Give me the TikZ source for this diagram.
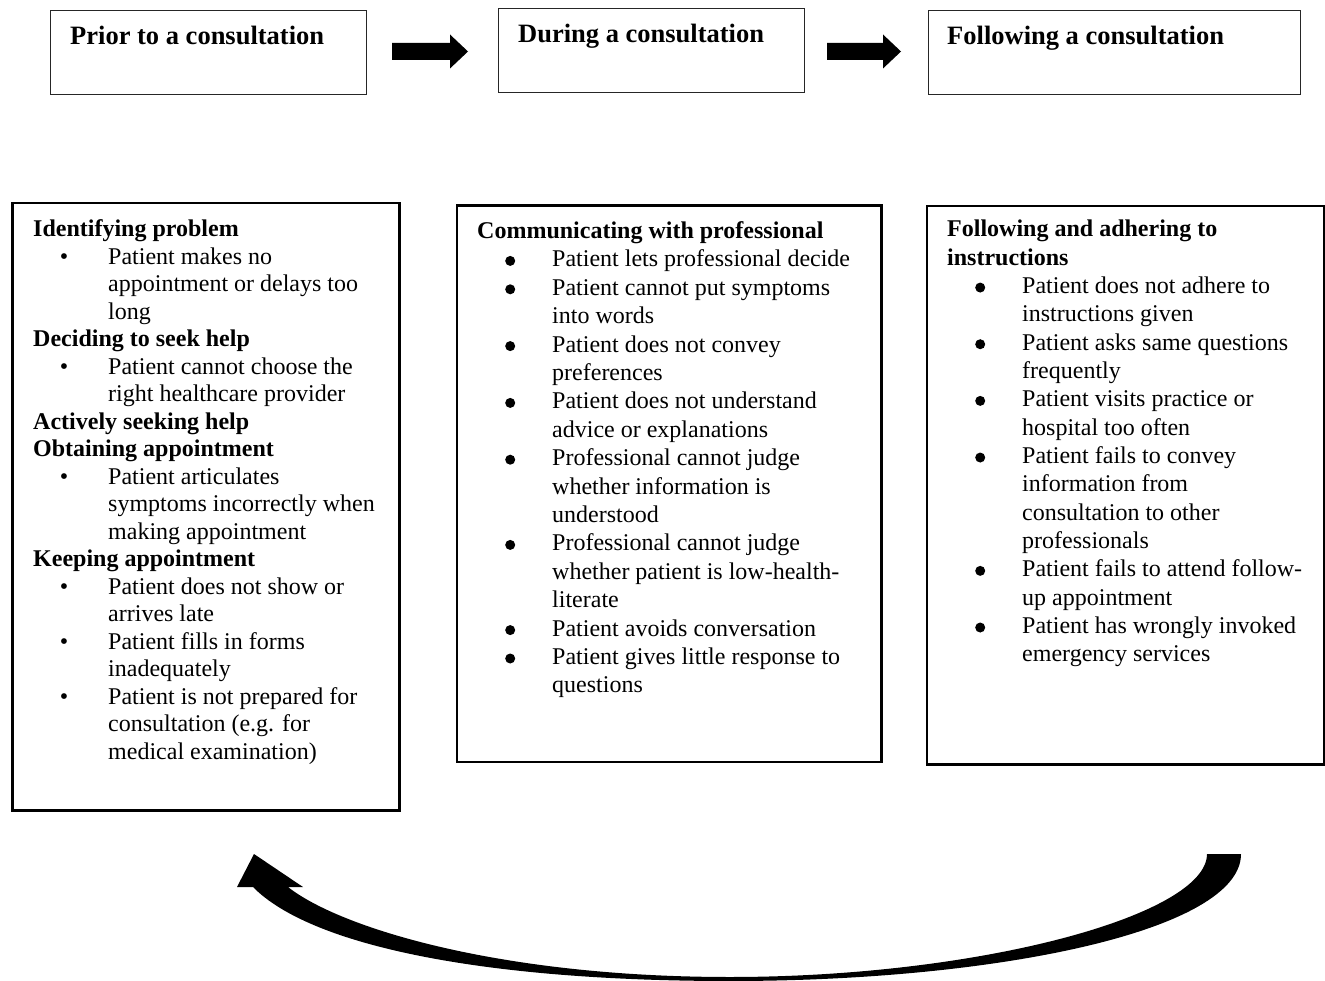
\documentclass[tikz,border=0pt]{standalone}
\usepackage{fontspec}
\setmainfont{Liberation Serif}
\usetikzlibrary{calc}
\newcommand\smb{•}
\newcommand\bgb{\tikz[baseline=0pt]\fill (0pt,6pt) circle[radius=5pt];}
\newcommand\bi[3]{\hspace*{#1}\makebox[0pt][c]{#2}\hspace*{\dimexpr75pt-#1\relax}#3}
\newcommand\ct[1]{\hspace*{75pt}#1}
\newcommand\fst{\rule{0pt}{20pt}}
\begin{document}
\begin{tikzpicture}[x=1pt,y=-1pt,
  topbox/.style={draw=black!85, line width=1.3pt, anchor=north west, inner sep=0pt},
  bigbox/.style={draw=black, line width=2.5pt, anchor=north west, inner sep=0pt},
  toptxt/.style={anchor=base west, inner sep=0pt, font=\fontsize{26.5}{30}\selectfont\bfseries},
  listtxt/.style={anchor=north west, inner sep=0pt, align=left}]
\useasboundingbox (0,0) rectangle (1325,981);

% top boxes
\node[topbox, minimum width=316, minimum height=84] (t1) at (50,10) {};
\node[topbox, minimum width=306, minimum height=84] (t2) at (498,8) {};
\node[topbox, minimum width=372, minimum height=84] (t3) at (928,10) {};
\node[toptxt] (t1l) at (70,45) {Prior to a consultation};
\node[toptxt] (t2l) at (518,43) {During a consultation};
\node[toptxt] (t3l) at (947,45) {Following a consultation};

% block arrows
\coordinate (a1s) at (392,51.5);
\coordinate (a1e) at (468,51.5);
\coordinate (a2s) at (827,51.5);
\coordinate (a2e) at (901,51.5);
\foreach \s/\e in {a1s/a1e,a2s/a2e}{
  \fill ($(\s)+(0,-8.5)$) -- ($(\e)+(-18,-8.5)$) -- ($(\e)+(-18,-17)$) -- (\e)
     -- ($(\e)+(-18,17)$) -- ($(\e)+(-18,8.5)$) -- ($(\s)+(0,8.5)$) -- cycle;
}

% bottom boxes
\node[bigbox, minimum width=387, minimum height=607] (ba) at (11,202) {};
\node[bigbox, minimum width=424.5, minimum height=556] (bb) at (455.5,204.5) {};
\node[bigbox, minimum width=397.5, minimum height=558] (bc) at (925.5,205) {};

\node[listtxt, font=\fontsize{24}{27.5}\selectfont] (ta) at (33,216.7) {%
\fst\textbf{Identifying problem}\\
\bi{31pt}{\smb}{Patient makes no}\\
\ct{appointment or delays too}\\
\ct{long}\\
\textbf{Deciding to seek help}\\
\bi{31pt}{\smb}{Patient cannot choose the}\\
\ct{right healthcare provider}\\
\textbf{Actively seeking help}\\
\textbf{Obtaining appointment}\\
\bi{31pt}{\smb}{Patient articulates}\\
\ct{symptoms incorrectly when}\\
\ct{making appointment}\\
\textbf{Keeping appointment}\\
\bi{31pt}{\smb}{Patient does not show or}\\
\ct{arrives late}\\
\bi{31pt}{\smb}{Patient fills in forms}\\
\ct{inadequately}\\
\bi{31pt}{\smb}{Patient is not prepared for}\\
\ct{consultation (e.g. for}\\
\ct{medical examination)}};

\node[listtxt, font=\fontsize{24}{28.4}\selectfont] (tb) at (477,218.3) {%
\fst\textbf{Communicating with professional}\\
\bi{33pt}{\bgb}{Patient lets professional decide}\\
\bi{33pt}{\bgb}{Patient cannot put symptoms}\\
\ct{into words}\\
\bi{33pt}{\bgb}{Patient does not convey}\\
\ct{preferences}\\
\bi{33pt}{\bgb}{Patient does not understand}\\
\ct{advice or explanations}\\
\bi{33pt}{\bgb}{Professional cannot judge}\\
\ct{whether information is}\\
\ct{understood}\\
\bi{33pt}{\bgb}{Professional cannot judge}\\
\ct{whether patient is low-health-}\\
\ct{literate}\\
\bi{33pt}{\bgb}{Patient avoids conversation}\\
\bi{33pt}{\bgb}{Patient gives little response to}\\
\ct{questions}};

\node[listtxt, font=\fontsize{24}{28.33}\selectfont] (tc) at (947,216.7) {%
\fst\textbf{Following and adhering to}\\
\textbf{instructions}\\
\bi{33pt}{\bgb}{Patient does not adhere to}\\
\ct{instructions given}\\
\bi{33pt}{\bgb}{Patient asks same questions}\\
\ct{frequently}\\
\bi{33pt}{\bgb}{Patient visits practice or}\\
\ct{hospital too often}\\
\bi{33pt}{\bgb}{Patient fails to convey}\\
\ct{information from}\\
\ct{consultation to other}\\
\ct{professionals}\\
\bi{33pt}{\bgb}{Patient fails to attend follow-}\\
\ct{up appointment}\\
\bi{33pt}{\bgb}{Patient has wrongly invoked}\\
\ct{emergency services}};

% curved return arrow
\fill (1207,854) -- (1241,854) .. controls (1241,930) and (1000,981) .. (730,981)
  .. controls (480,981) and (310,945) .. (253,887) -- (237,887) -- (254,854)
  -- (303,887) -- (288,887) .. controls (340,928) and (500,977) .. (730,977)
  .. controls (980,977) and (1207,915) .. (1207,854) -- cycle;
\end{tikzpicture}
\end{document}
